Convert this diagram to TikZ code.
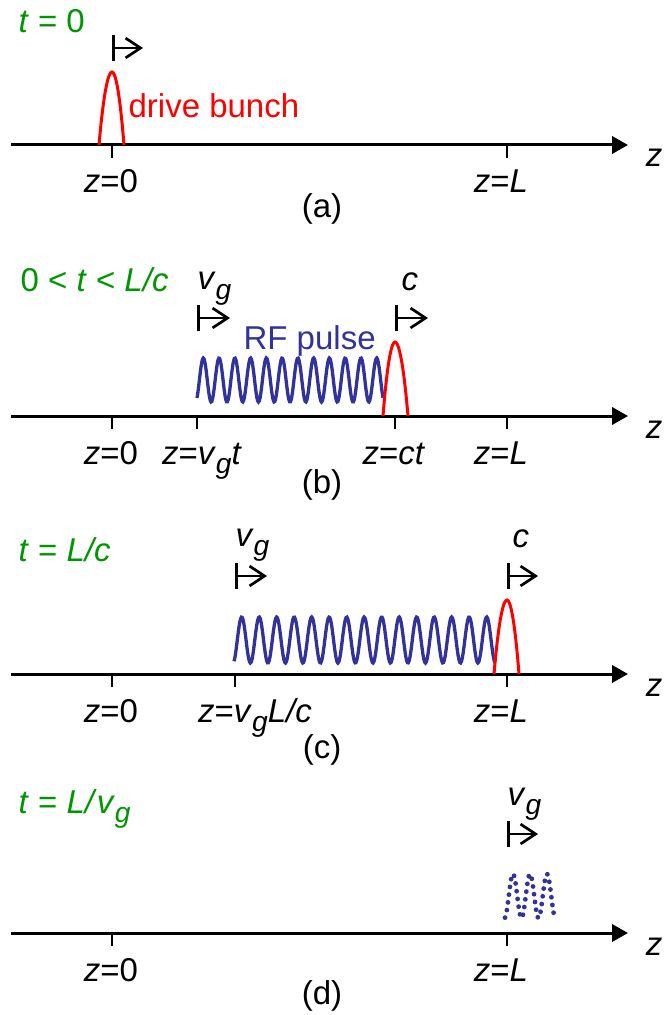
\documentclass[tikz,border=0pt]{standalone}
\usepackage{fontspec}
\setmainfont{Liberation Sans}
\usetikzlibrary{arrows.meta}
\definecolor{timegreen}{RGB}{0,150,0}
\definecolor{pulseblue}{RGB}{50,50,155}
\definecolor{bunchred}{RGB}{255,0,0}
\newcommand{\vsub}{\textit{v}\raisebox{-0.55ex}{\fontsize{9.4}{10}\selectfont\textit{g}}}

\begin{document}
\begin{tikzpicture}[x=0.3333pt,y=-0.3333pt,font=\fontsize{11}{13}\selectfont,
    every node/.style={inner sep=0pt},
    zaxis/.style={line width=1pt,-{Triangle[length=5.3pt,width=5.7pt]}},
    ztick/.style={line width=0.85pt},
    speed/.style={line width=0.9pt,{Bar[width=8.7pt]}-{Straight Barb[length=5pt,width=6.6pt]}},
    bunch/.style={bunchred,line width=1pt},
    rfpulse/.style={pulseblue,line width=1.1pt},
    timelabel/.style={timegreen,anchor=base west},
    poslabel/.style={anchor=base}]
    \useasboundingbox (0,0) rectangle (663,1015);
    % axes, ticks and z labels (all four panels)
    \foreach \ay/\pl/\py in {145/a/218,416/b/493,674/c/758,933/d/1004}{
        \draw[zaxis] (11,\ay) -- (628,\ay);
        \node[poslabel] (zax-\pl) at (654,\ay+22) {\textit{z}};
        \draw[ztick] (112,\ay) -- ++(0,13);
        \draw[ztick] (507,\ay) -- ++(0,13);
        \node[poslabel] (zzero-\pl) at (111,\ay+48) {\textit{z}=0};
        \node[poslabel] (zend-\pl) at (501,\ay+48) {\textit{z}=\textit{L}};
        \node[poslabel] (panel-\pl) at (322,\py) {(\pl)};
    }
    % (a) t = 0
    \node[timelabel] (time-a) at (18,33) {\textit{t} = 0};
    \draw[speed] (112,48) -- (143,48);
    \draw[bunch] (99,145) parabola bend (112,72) (124,145);
    \node[bunchred,anchor=base west] (drive) at (128,118) {drive bunch};
    % (b) 0 < t < L/c
    \node[timelabel] (time-b) at (20,292) {0 < \textit{t} < \textit{L/c}};
    \draw[ztick] (197,416) -- ++(0,13);
    \draw[ztick] (395,416) -- ++(0,13);
    \node[poslabel] (zvg-b) at (202,464) {\textit{z}=\vsub\textit{t}};
    \node[poslabel] (zct-b) at (394,464) {\textit{z}=\textit{ct}};
    \node[anchor=base west] (vg-b) at (197,290) {\vsub};
    \node[anchor=base west] (c-b) at (401,291) {\textit{c}};
    \draw[speed] (197,318) -- (230,318);
    \draw[speed] (395,318) -- (428,318);
    \draw[rfpulse] plot[domain=197:383,samples=240]
        (\x,{380-22*sin((\x-199.4)*22.843)});
    \node[pulseblue,anchor=base west] (rf) at (243,350) {RF pulse};
    \draw[bunch] (383,416) parabola bend (395,342) (408,416);
    % (c) t = L/c
    \node[timelabel] (time-c) at (18,561) {\textit{t} = \textit{L/c}};
    \draw[ztick] (235,674) -- ++(0,13);
    \node[poslabel] (zvg-c) at (255,722) {\textit{z}=\vsub\textit{L/c}};
    \node[anchor=base west] (vg-c) at (235,546) {\vsub};
    \node[anchor=base west] (c-c) at (512,547) {\textit{c}};
    \draw[speed] (235,576) -- (267,576);
    \draw[speed] (507,576) -- (538,576);
    \draw[rfpulse] plot[domain=234:495,samples=320]
        (\x,{640-23*sin((\x-237.3)*20.571)});
    \draw[bunch] (494,674) parabola bend (507,600) (519,674);
    % (d) t = L/vg
    \node[timelabel] (time-d) at (18,813) {\textit{t} = \textit{L/}\vsub};
    \node[anchor=base west] (vg-d) at (507,805) {\vsub};
    \draw[speed] (507,834) -- (538,834);
    \draw[rfpulse,line width=1.6pt,line cap=round,dash pattern=on 0pt off 2.6pt]
        plot[domain=505:555,samples=120] (\x,{896-22*sin((\x-508.75)*21.18)});
\end{tikzpicture}
\end{document}
